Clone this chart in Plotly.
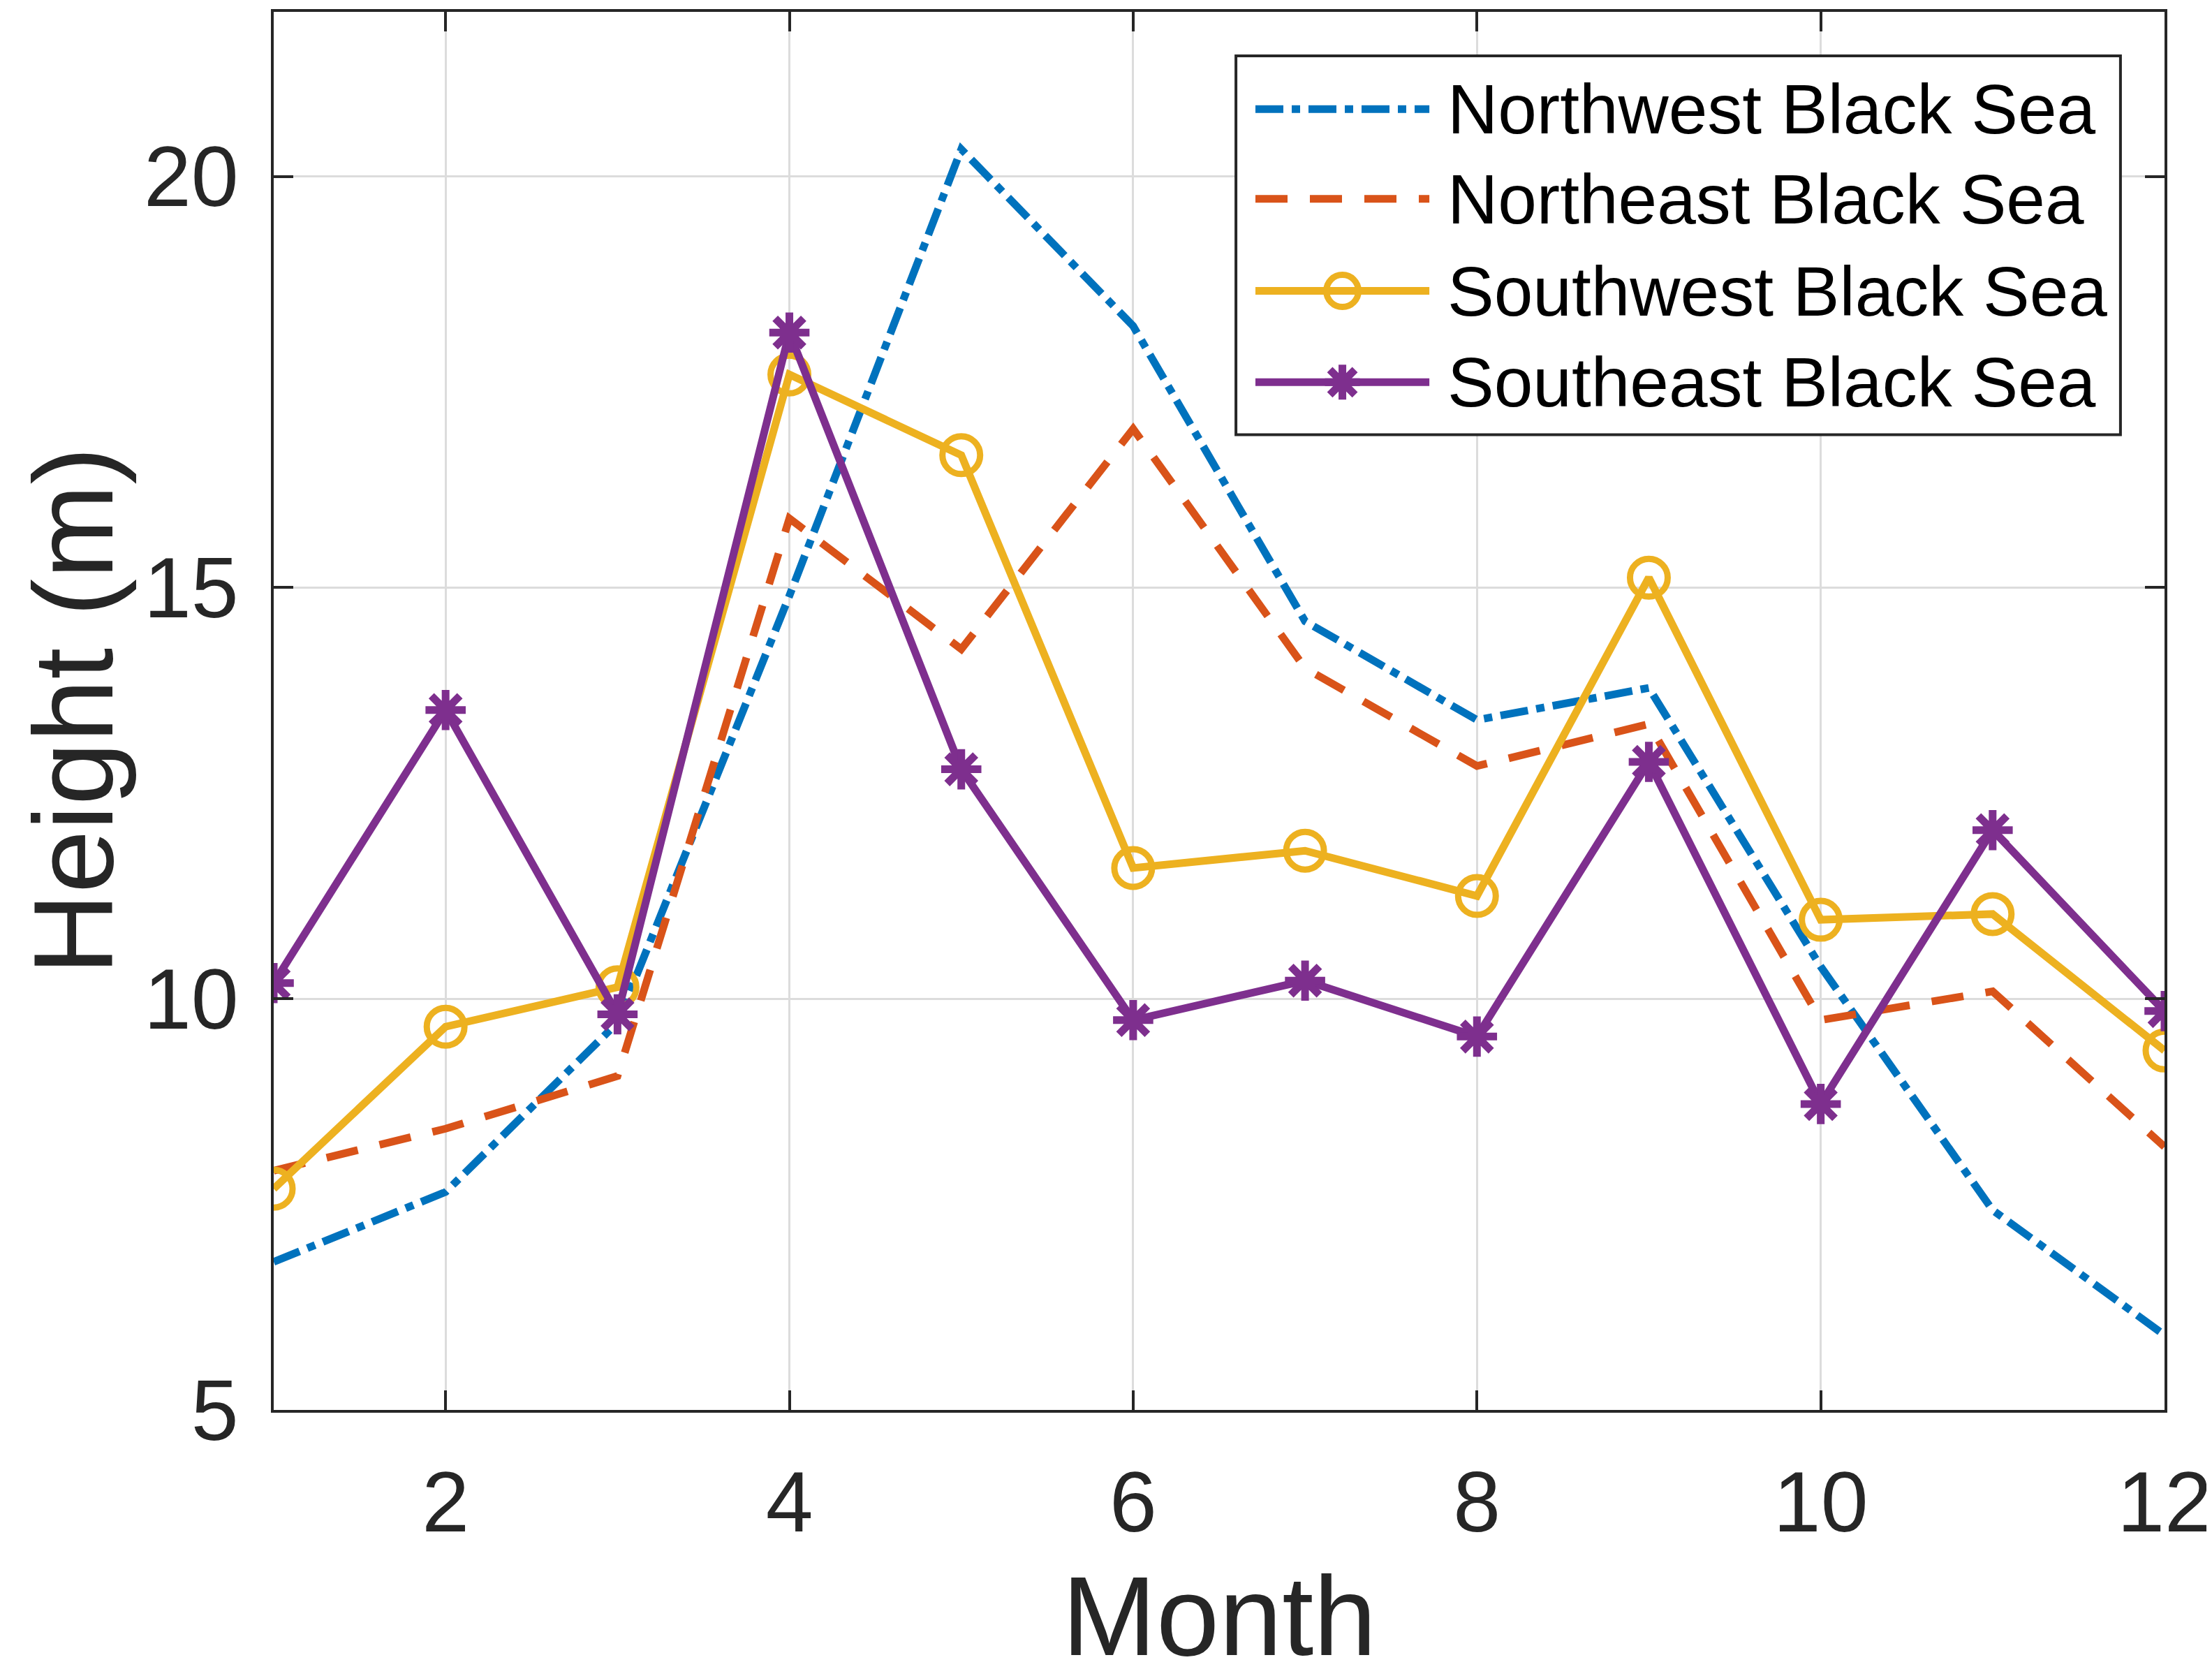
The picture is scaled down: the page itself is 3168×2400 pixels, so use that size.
import plotly.graph_objects as go

months = list(range(1, 13))

northwest = [6.80, 7.65, 9.71, 14.9, 20.33, 18.18, 14.59, 13.39, 13.78, 10.39, 7.43, 5.91]
northeast = [7.91, 8.42, 9.06, 15.84, 14.25, 16.93, 14.02, 12.83, 13.34, 9.74, 10.09, 8.2]
southwest = [7.69, 9.66, 10.14, 17.59, 16.61, 11.59, 11.80, 11.25, 15.12, 10.96, 11.03, 9.37]
southeast = [10.19, 13.51, 9.81, 18.10, 12.79, 9.74, 10.22, 9.54, 12.88, 8.72, 12.05, 9.85]

names = ["Northwest Black Sea", "Northeast Black Sea",
         "Southwest Black Sea", "Southeast Black Sea"]
colors = ["#0072BD", "#D95319", "#EDB120", "#7E2F8E"]
dashes = ["40px,12px,12px,12px", "46px,32px", "solid", "solid"]
x_ticks = [2, 4, 6, 8, 10, 12]
y_ticks = [5, 10, 15, 20]

FONT = "Liberation Sans, Arial, sans-serif"
AXIS_COLOR = "#262626"
LW = 11
TICK_SIZE = 122
LABEL_SIZE = 162

fig = go.Figure()

fig.add_trace(go.Scatter(
    x=months, y=northwest, name=names[0], mode="lines",
    line=dict(color=colors[0], width=LW, dash=dashes[0]),
))
fig.add_trace(go.Scatter(
    x=months, y=northeast, name=names[1], mode="lines",
    line=dict(color=colors[1], width=LW, dash=dashes[1]),
))
fig.add_trace(go.Scatter(
    x=months, y=southwest, name=names[2], mode="lines+markers",
    line=dict(color=colors[2], width=LW),
    marker=dict(symbol="circle-open", size=54, color=colors[2],
                line=dict(color=colors[2], width=9)),
))
fig.add_trace(go.Scatter(
    x=months, y=southeast, name=names[3], mode="lines+markers",
    line=dict(color=colors[3], width=LW),
    marker=dict(symbol="asterisk-open", size=48, color=colors[3],
                line=dict(color=colors[3], width=11)),
))

# legend drawn by hand so the samples keep the full line width and marker size
box_x0, box_x1 = 0.5089, 0.9767
box_y0, box_y1 = 0.6975, 0.9685
row_y = [0.9305, 0.8662, 0.8004, 0.7351]
sample_x0, sample_x1, sample_xm = 0.5192, 0.6112, 0.5652
text_x = 0.6200

shapes = [dict(type="rect", xref="paper", yref="paper",
               x0=box_x0, x1=box_x1, y0=box_y0, y1=box_y1,
               fillcolor="white", line=dict(color=AXIS_COLOR, width=4),
               layer="above")]
annotations = []
for name, color, dash, ry in zip(names, colors, dashes, row_y):
    shapes.append(dict(type="line", xref="paper", yref="paper",
                       x0=sample_x0, x1=sample_x1, y0=ry, y1=ry,
                       line=dict(color=color, width=LW, dash=dash),
                       layer="above"))
    annotations.append(dict(text=name, xref="paper", yref="paper",
                            x=text_x, y=ry, xanchor="left", yanchor="middle",
                            showarrow=False,
                            font=dict(family=FONT, size=100, color="black")))

# circle marker for Southwest
shapes.append(dict(type="circle", xref="paper", yref="paper",
                   xsizemode="pixel", ysizemode="pixel",
                   xanchor=sample_xm, yanchor=row_y[2],
                   x0=-23, x1=23, y0=-23, y1=23,
                   line=dict(color=colors[2], width=9), layer="above"))
# asterisk marker for Southeast
shapes.append(dict(type="path", xref="paper", yref="paper",
                   xsizemode="pixel", ysizemode="pixel",
                   xanchor=sample_xm, yanchor=row_y[3],
                   path="M0,-25L0,25M-25,0L25,0M-18,-18L18,18M-18,18L18,-18",
                   line=dict(color=colors[3], width=11), layer="above"))

# axis titles as annotations, kept just inside the page edges
annotations.append(dict(text="Height (m)", xref="paper", yref="paper",
                        x=0, y=0.5, xanchor="center", yanchor="middle",
                        xshift=-288, textangle=-90, showarrow=False,
                        font=dict(family=FONT, size=LABEL_SIZE, color=AXIS_COLOR)))
annotations.append(dict(text="Month", xref="paper", yref="paper",
                        x=0.5, y=0, xanchor="center", yanchor="bottom",
                        yshift=-387, showarrow=False,
                        font=dict(family=FONT, size=LABEL_SIZE, color=AXIS_COLOR)))

fig.update_layout(
    width=3168, height=2400,
    margin=dict(l=384, r=76, t=5, b=389),
    paper_bgcolor="white", plot_bgcolor="white",
    font=dict(family=FONT, color=AXIS_COLOR, size=TICK_SIZE),
    showlegend=False,
    shapes=shapes,
    annotations=annotations,
    xaxis=dict(
        range=[1, 12], tickvals=x_ticks,
        showgrid=True, gridcolor="#dcdcdc", gridwidth=3,
        showline=True, linecolor=AXIS_COLOR, linewidth=4, mirror="ticks",
        ticks="inside", ticklen=28, tickwidth=4, tickcolor=AXIS_COLOR,
        tickfont=dict(size=TICK_SIZE), ticklabelstandoff=24,
        ticklabeloverflow="allow",
        zeroline=False,
    ),
    yaxis=dict(
        range=[5, 22], tickvals=y_ticks,
        showgrid=True, gridcolor="#dcdcdc", gridwidth=3,
        showline=True, linecolor=AXIS_COLOR, linewidth=4, mirror="ticks",
        ticks="inside", ticklen=28, tickwidth=4, tickcolor=AXIS_COLOR,
        tickfont=dict(size=TICK_SIZE), ticklabelstandoff=22,
        zeroline=False,
    ),
)

fig.write_html("out.html")
